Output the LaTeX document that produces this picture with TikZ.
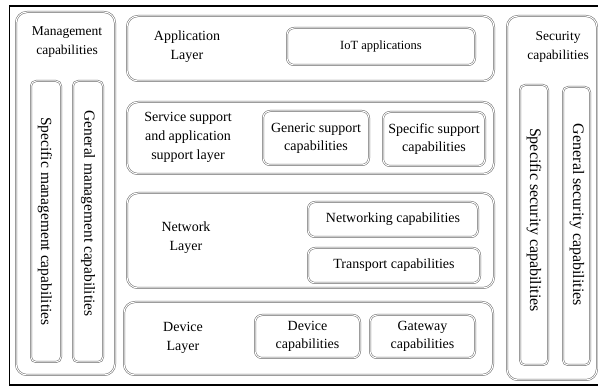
\documentclass[tikz,border=0pt]{standalone}
\usepackage{fontspec}
\setmainfont{Liberation Serif}
\usepackage{tikz}
\usetikzlibrary{positioning}

\begin{document}
\begin{tikzpicture}[x=1pt,y=-1pt,
		box/.style={draw=gray!80!black, line width=0.5pt, double=white, double distance=1pt, rounded corners=11pt},
		capbox/.style={box, rounded corners=7pt, align=center, inner sep=1pt, font=\fontsize{14}{18}\selectfont},
		vbox/.style={box, rounded corners=5pt},
		vlbl/.style={rotate=-90, inner sep=0pt},
		lbl/.style={align=center, font=\fontsize{14}{19}\selectfont},
		title/.style={align=center, font=\fontsize{13.5}{19}\selectfont}]
		\useasboundingbox (0,0) rectangle (598,387);
		% frame
		\draw[line width=1.3pt] (605,6) -- (9.5,6) -- (9.5,385) -- (605,385);
		% management column
		\draw[box] (16,12) rectangle (115,375);
		\node[title] (mgmt) at (67,42) {Management\\capabilities};
		\draw[vbox] (31,81) rectangle (61,362);
		\node[vlbl, font=\fontsize{15.5}{19}\selectfont] (specman) at (45,221.5) {Specific management capabilities};
		\draw[vbox] (73,81) rectangle (103,362);
		\node[vlbl, font=\fontsize{15.5}{19}\selectfont] (genman) at (88,213.5) {General management capabilities};
		% layers
		\draw[box] (127,16) rectangle (494,81);
		\node[lbl] (app) at (187,47) {Application\\Layer};
		\node[capbox, minimum width=188, minimum height=37, font=\fontsize{12.5}{18}\selectfont] (iot) at (381,46.5) {IoT applications};
		\draw[box] (127,102) rectangle (494,174);
		\node[lbl] (service) at (188,137) {Service support\\and application\\support layer};
		\node[capbox, minimum width=106, minimum height=54] (generic) at (316,138) {Generic support\\capabilities};
		\node[capbox, minimum width=102, minimum height=54] (specsup) at (434,139) {Specific support\\capabilities};
		\draw[box] (127,193) rectangle (494,288);
		\node[lbl] (network) at (186,237.5) {Network\\Layer};
		\node[capbox, minimum width=170, minimum height=35] (networking) at (393,219.5) {Networking capabilities};
		\node[capbox, minimum width=172, minimum height=35] (transport) at (394,265.5) {Transport capabilities};
		\draw[box] (124,302) rectangle (493,375);
		\node[lbl] (device) at (183,338) {Device\\Layer};
		\node[capbox, minimum width=105, minimum height=43] (devcap) at (307.5,336.5) {Device\\capabilities};
		\node[capbox, minimum width=105, minimum height=43] (gateway) at (422.5,336.5) {Gateway\\capabilities};
		% security column
		\draw[box] (507,16) rectangle (597,380);
		\node[title] (security) at (558,47) {Security\\capabilities};
		\draw[vbox] (520,85) rectangle (548,365);
		\node[vlbl, font=\fontsize{16}{19}\selectfont] (specsec) at (534,220) {Specific security capabilities};
		\draw[vbox] (563,87) rectangle (590,365);
		\node[vlbl, font=\fontsize{16}{19}\selectfont] (gensec) at (577,215) {General security capabilities};
	\end{tikzpicture}
\end{document}
